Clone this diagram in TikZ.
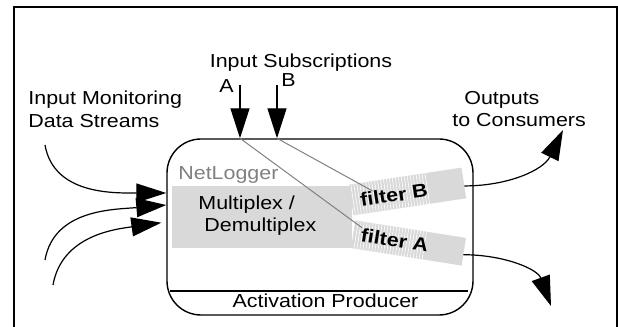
\documentclass[tikz,border=0pt]{standalone}
\usepackage{fontspec}
\setmainfont{Liberation Sans}[FakeStretch=1.14]
\usetikzlibrary{arrows.meta,calc}
\newcommand\lblsize{\fontsize{9.4}{11.35}\selectfont}

\begin{document}
\begin{tikzpicture}[x=0.5pt,y=0.5pt,
   font=\lblsize,
   every node/.style={inner sep=0pt},
   stream/.style={-{Triangle[length=15pt,width=9.5pt]},line width=0.6pt},
   tap/.style={black!50,line width=0.5pt},
   band/.style={fill=black!15},
   hatch/.style={white,line width=0.3pt}]
\useasboundingbox (0,0) rectangle (618,327);
\draw[line width=1pt] (14,-5) |- (617,320) -- (617,-5);

\node[draw,line width=0.7pt,rounded corners=17pt,
   minimum width=153pt,minimum height=88pt] (np) at (320,100) {};
\fill[band] (172,79) rectangle (352,141);
\begin{scope}[shift={(407.5,135.5)},rotate=8.6]
   \fill[band] (-57,-15.5) rectangle (57,15.5);
   \foreach \x in {-55,-52,...,20} \draw[hatch] (\x,-15.5) -- (\x,15.5);
   \node[transform shape,font=\lblsize\bfseries] (fB) at (-14,-1.5) {filter B};
   \coordinate (outB) at (57,-3);
\end{scope}
\begin{scope}[shift={(408.5,84)},rotate=-9]
   \fill[band] (-56,-14) rectangle (56,14);
   \foreach \x in {-53,-50,...,17} \draw[hatch] (\x,-14) -- (\x,14);
   \node[transform shape,font=\lblsize\bfseries] (fA) at (-14,0.5) {filter A};
   \coordinate (outA) at (56,-3);
\end{scope}

\node[anchor=base west,text=black!50] (nl) at (178,147) {NetLogger};
\node[anchor=base west,align=left] (mux) at (198,95) {Multiplex /\\\hspace*{3pt}Demultiplex};
\node[anchor=base] (act) at (325.5,19) {Activation Producer};
\draw[line width=1pt] (170,36) -- (468,36);

\node[anchor=base] (subs) at (301,259) {Input Subscriptions};
\node[anchor=base] (la) at (226.5,234) {A};
\node[anchor=base] (lb) at (288.5,240) {B};
\coordinate (subA) at (240,242);
\coordinate (subB) at (277,242);
\draw[stream] (subA) -- (subA |- np.north);
\draw[stream] (subB) -- (subB |- np.north);
\draw[tap] (subA |- np.north) -- (fA.north west);
\draw[tap] (subB |- np.north) -- ($(fB.north west)!0.2!(fB.north east)$);

\node[anchor=base west,align=left] (mon) at (28,199.5) {Input Monitoring\\Data Streams};
\coordinate (ds1) at (45,182);
\coordinate (ds2) at (45,67);
\coordinate (ds3) at (53,42);
\draw[stream] (ds1) to[out=-80,in=180] (np.west |- 0,134);
\draw[stream] (ds2) to[out=80,in=185] (np.west |- 0,122);
\draw[stream,shorten >=2.5pt] (ds3) to[out=80,in=188] (np.west |- 0,105);

\node[anchor=base west,align=left] (cons) at (452,200) {\hspace*{6pt}Outputs\\to Consumers};
\coordinate (consB) at (563,197);
\coordinate (consA) at (551,21);
\draw[stream] (outB) to[out=0,in=-116] (consB);
\draw[stream] (outA) to[out=0,in=110] (consA);
\end{tikzpicture}
\end{document}
